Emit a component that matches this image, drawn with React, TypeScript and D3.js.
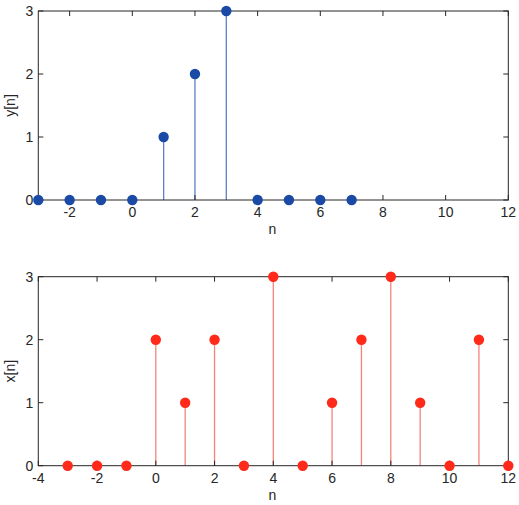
import React, { useEffect, useRef } from "react";
import * as d3 from "d3";

// y[n] samples
const yN = [-3, -2, -1, 0, 1, 2, 3, 4, 5, 6, 7];
const yVals = [0, 0, 0, 0, 1, 2, 3, 0, 0, 0, 0];

// x[n] samples
const xN = [-3, -2, -1, 0, 1, 2, 3, 4, 5, 6, 7, 8, 9, 10, 11, 12];
const xVals = [0, 0, 0, 2, 1, 2, 0, 3, 0, 1, 2, 3, 1, 0, 2, 0];

const topXTicks = [-2, 0, 2, 4, 6, 8, 10, 12];
const bottomXTicks = [-4, -2, 0, 2, 4, 6, 8, 10, 12];
const yTicks = [0, 1, 2, 3];

const W = 519;
const H = 505;

const App = () => {
  const svgRef = useRef<SVGSVGElement>(null);

  useEffect(() => {
    const svg = d3.select(svgRef.current);
    svg.selectAll("*").remove();

    const drawPanel = (
      top: number,
      domainX: [number, number],
      xTicks: number[],
      ns: number[],
      vals: number[],
      yLabel: string,
      markColor: string,
      stemColor: string
    ) => {
      const left = 38.3;
      const right = 508.3;
      const height = 189;

      const x = d3.scaleLinear().domain(domainX).range([left, right]);
      const y = d3.scaleLinear().domain([0, 3]).range([top + height, top]);

      const g = svg.append("g");
      const axisColor = "#262626";
      const font = "Liberation Sans, Arial, sans-serif";
      const fs = 14;

      // stems
      g.selectAll(".stem")
        .data(ns)
        .enter()
        .append("line")
        .attr("x1", (d) => x(d))
        .attr("x2", (d) => x(d))
        .attr("y1", y(0))
        .attr("y2", (d, i) => y(vals[i]))
        .attr("stroke", stemColor)
        .attr("stroke-width", 1.3);

      // box
      g.append("rect")
        .attr("x", left)
        .attr("y", top)
        .attr("width", right - left)
        .attr("height", height)
        .attr("fill", "none")
        .attr("stroke", axisColor)
        .attr("stroke-width", 1);

      // inward ticks
      const tl = 5;
      xTicks.forEach((t) => {
        g.append("line")
          .attr("x1", x(t)).attr("x2", x(t))
          .attr("y1", y(0)).attr("y2", y(0) - tl)
          .attr("stroke", axisColor);
        g.append("line")
          .attr("x1", x(t)).attr("x2", x(t))
          .attr("y1", top).attr("y2", top + tl)
          .attr("stroke", axisColor);
        g.append("text")
          .attr("x", x(t))
          .attr("y", y(0) + 17)
          .attr("text-anchor", "middle")
          .attr("font-family", font)
          .attr("font-size", fs)
          .attr("fill", axisColor)
          .text(t);
      });
      yTicks.forEach((t) => {
        g.append("line")
          .attr("x1", left).attr("x2", left + tl)
          .attr("y1", y(t)).attr("y2", y(t))
          .attr("stroke", axisColor);
        g.append("line")
          .attr("x1", right).attr("x2", right - tl)
          .attr("y1", y(t)).attr("y2", y(t))
          .attr("stroke", axisColor);
        g.append("text")
          .attr("x", left - 5)
          .attr("y", y(t) + 5)
          .attr("text-anchor", "end")
          .attr("font-family", font)
          .attr("font-size", fs)
          .attr("fill", axisColor)
          .text(t);
      });

      // markers
      g.selectAll(".mark")
        .data(ns)
        .enter()
        .append("circle")
        .attr("cx", (d) => x(d))
        .attr("cy", (d, i) => y(vals[i]))
        .attr("r", 5.2)
        .attr("fill", markColor);

      // axis labels
      g.append("text")
        .attr("x", (left + right) / 2 - 1)
        .attr("y", top + height + 34)
        .attr("text-anchor", "middle")
        .attr("font-family", font)
        .attr("font-size", fs)
        .attr("fill", axisColor)
        .text("n");
      g.append("text")
        .attr("transform", `translate(15,${top + height / 2}) rotate(-90)`)
        .attr("text-anchor", "middle")
        .attr("font-family", font)
        .attr("font-size", fs)
        .attr("fill", axisColor)
        .text(yLabel);
    };

    drawPanel(11, [-3, 12], topXTicks, yN, yVals, "y[n]", "#1a4aa6", "#5b80c4");
    drawPanel(276.7, [-4, 12], bottomXTicks, xN, xVals, "x[n]", "#ff2a1a", "#f48478");
  }, []);

  return (
    <svg
      ref={svgRef}
      width={W}
      height={H}
      style={{ position: "absolute", left: 0, top: 0, background: "#fff" }}
    ></svg>
  );
};

export default App;
